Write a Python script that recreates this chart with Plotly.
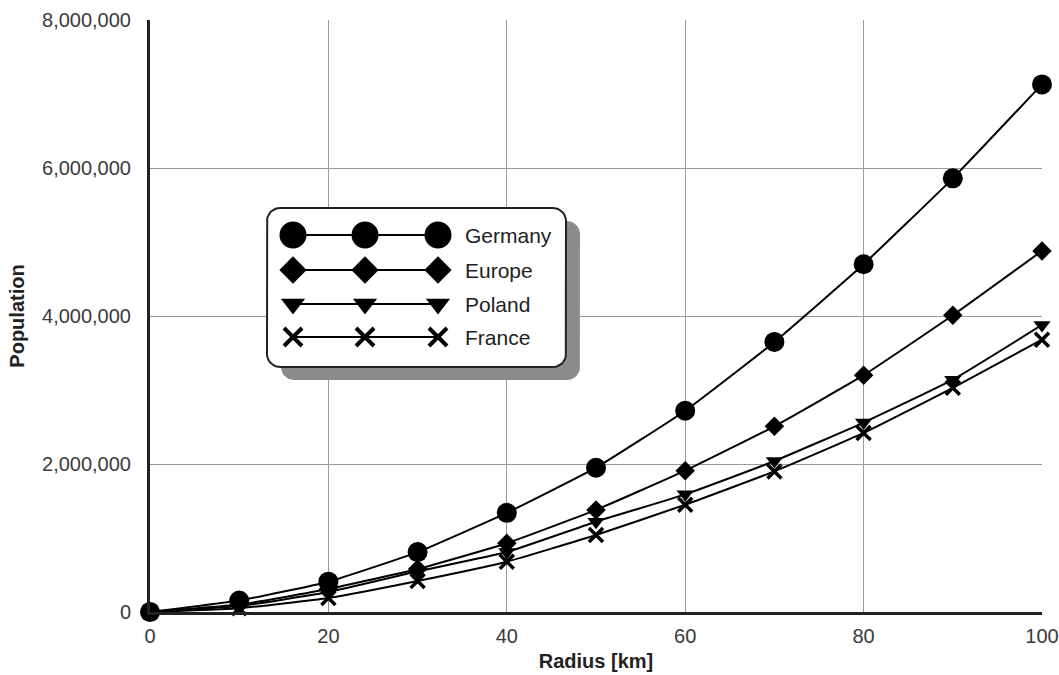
import numpy as np
import plotly.graph_objects as go

radius = [0, 10, 20, 30, 40, 50, 60, 70, 80, 90, 100]
germany = [0, 155000, 410000, 810000, 1340000, 1950000, 2720000, 3650000, 4700000, 5860000, 7130000]
europe = [0, 100000, 310000, 580000, 930000, 1380000, 1910000, 2510000, 3200000, 4010000, 4880000]
poland = [0, 80000, 270000, 550000, 810000, 1220000, 1590000, 2040000, 2560000, 3140000, 3880000]
france = [0, 50000, 190000, 420000, 680000, 1040000, 1450000, 1900000, 2420000, 3030000, 3680000]
series_names = ["Germany", "Europe", "Poland", "France"]
y_ticks = [0, 2000000, 4000000, 6000000, 8000000]
x_ticks = [0, 20, 40, 60, 80, 100]

styles = [
    dict(symbol="circle", size=20, line=dict(width=0)),
    dict(symbol="diamond", size=15, line=dict(width=0)),
    dict(symbol="triangle-down", size=15, line=dict(width=0)),
    dict(symbol="x-thin", size=14, line=dict(width=3.5, color="black")),
]
legend_styles = [
    dict(symbol="circle", size=27, line=dict(width=0)),
    dict(symbol="diamond", size=21, line=dict(width=0)),
    dict(symbol="triangle-down", size=21, line=dict(width=0)),
    dict(symbol="x-thin", size=18, line=dict(width=4, color="black")),
]

fig = go.Figure()
for name, vals, st in zip(series_names, [germany, europe, poland, france], styles):
    fig.add_trace(go.Scatter(
        x=radius, y=vals, name=name, mode="lines+markers", cliponaxis=False,
        line=dict(color="black", width=2, shape="spline", smoothing=0.4),
        marker=dict(color="black", **st), showlegend=False,
    ))

# custom legend drawn on a pixel-like overlay axis
def rounded_rect(x0, y0, x1, y1, r, n=10):
    pts = []
    corners = [(x1 - r, y0 + r, -90, 0), (x1 - r, y1 - r, 0, 90),
               (x0 + r, y1 - r, 90, 180), (x0 + r, y0 + r, 180, 270)]
    for cx, cy, a0, a1 in corners:
        for a in np.linspace(np.radians(a0), np.radians(a1), n):
            pts.append((cx + r * np.cos(a), cy + r * np.sin(a)))
    pts.append(pts[0])
    return [p[0] for p in pts], [p[1] for p in pts]

bx0, by0, bx1, by1 = 267, 208, 566, 367
sx, sy = rounded_rect(bx0 + 14, by0 + 13, bx1 + 14, by1 + 13, 13)
fig.add_trace(go.Scatter(x=sx, y=sy, xaxis="x2", yaxis="y2", mode="lines",
                         fill="toself", fillcolor="#8c8c8c", line=dict(width=0, color="#8c8c8c"),
                         showlegend=False, hoverinfo="skip"))
rx, ry = rounded_rect(bx0, by0, bx1, by1, 13)
fig.add_trace(go.Scatter(x=rx, y=ry, xaxis="x2", yaxis="y2", mode="lines",
                         fill="toself", fillcolor="white", line=dict(width=2, color="#222"),
                         showlegend=False, hoverinfo="skip"))
row_y = [235, 270, 304, 337]
mk_x = [293, 365, 438]
for name, yy, st in zip(series_names, row_y, legend_styles):
    fig.add_trace(go.Scatter(x=mk_x, y=[yy] * 3, xaxis="x2", yaxis="y2", mode="lines+markers",
                             line=dict(color="black", width=2), marker=dict(color="black", **st),
                             showlegend=False, hoverinfo="skip"))
    fig.add_annotation(x=463, y=yy, xref="x2", yref="y2", text=name, showarrow=False,
                       xanchor="left", yanchor="middle",
                       font=dict(family="Liberation Sans, Arial", size=21, color="#222"))

fig.update_layout(
    width=1059, height=675,
    margin=dict(l=150, r=17, t=20, b=63, autoexpand=False),
    paper_bgcolor="white", plot_bgcolor="white",
    font=dict(family="Liberation Sans, Arial", color="#333"),
    xaxis=dict(range=[0, 100], tickvals=x_ticks, ticktext=[str(v) for v in x_ticks],
               showgrid=True, gridcolor="#9a9a9a", gridwidth=1, automargin=False,
               showline=True, linecolor="#222", linewidth=3, zeroline=False,
               ticks="outside", ticklen=4, tickcolor="rgba(0,0,0,0)",
               tickfont=dict(size=20, color="#3a3a3a"),
               title=dict(text="<b>Radius [km]</b>", font=dict(size=20, color="#222"), standoff=8)),
    yaxis=dict(range=[0, 8000000], tickvals=y_ticks,
               ticktext=[f"{v:,}" for v in y_ticks],
               showgrid=True, gridcolor="#9a9a9a", gridwidth=1, automargin=False,
               showline=True, linecolor="#222", linewidth=3, zeroline=False,
               ticks="outside", ticklen=12, tickcolor="rgba(0,0,0,0)",
               tickfont=dict(size=20, color="#3a3a3a"),
               title=dict(text="<b>Population</b>", font=dict(size=20, color="#222"), standoff=13)),
    xaxis2=dict(overlaying="x", range=[150, 1042], visible=False, showgrid=False),
    yaxis2=dict(overlaying="y", range=[612, 20], visible=False, showgrid=False),
    showlegend=False,
)
fig.write_html("out.html", config={"displayModeBar": False},
               post_script="document.body.style.margin='0';document.body.style.padding='0';")
